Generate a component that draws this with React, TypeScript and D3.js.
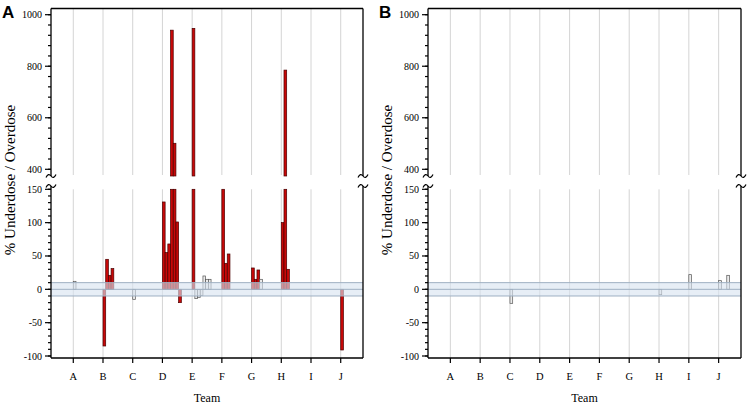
import React from "react";
import * as d3 from "d3";

const teams = ["A", "B", "C", "D", "E", "F", "G", "H", "I", "J"];

// Panel A: bar values per team (in order, left to right within each team)
const panelAValues: (number | null)[][] = [
  [12],
  [-85, 45, 21, 31],
  [-15],
  [131, 55, 68, 940, 501, 101, -20],
  [947, -14, -12, -9, 20, 15, 15],
  [150, 39, 53],
  [32, 15, 29, 15],
  [100, 785, 30],
  [],
  [-91],
];
// Panel A: whether each bar is highlighted (red) or not (grey)
const panelARed: boolean[][] = [
  [false],
  [true, true, true, true],
  [false],
  [true, true, true, true, true, true, true],
  [true, false, false, false, false, false, false],
  [true, true, true],
  [true, true, true, false],
  [true, true, true],
  [],
  [true],
];

// Panel B
const panelBValues: (number | null)[][] = [
  [],
  [],
  [-21],
  [],
  [],
  [],
  [],
  [-8],
  [22],
  [13, null, null, 21],
];
const panelBRed: boolean[][] = [
  [],
  [],
  [false],
  [],
  [],
  [],
  [],
  [false],
  [false],
  [false, false, false, false],
];

const upperTicks = [400, 600, 800, 1000];
const lowerTicks = [-100, -50, 0, 50, 100, 150];
const upperDomain = [400, 1000];
const lowerDomain = [-100, 150];
const bandLimits = [-10, 10];

const TOP = 8.5;
const UPPER_BOTTOM = 176;
const LOWER_AXIS_START = 186;
const LOWER_TOP = 189.3;
const BOTTOM = 358;

const upY = d3.scaleLinear().domain(upperDomain).range([169.3, 14.7]);
const lowY = d3.scaleLinear().domain(lowerDomain).range([356, 189.3]);

const FONT = "'Liberation Serif', 'Times New Roman', serif";

function squiggle(x: number, y: number) {
  return `M${x - 5},${y + 1.5} Q${x - 2.5},${y - 3.5} ${x},${y} Q${x + 2.5},${y + 3.5} ${x + 5},${y - 1.5}`;
}

function Panel({
  left,
  right,
  letter,
  values,
  red,
}: {
  left: number;
  right: number;
  letter: string;
  values: (number | null)[][];
  red: boolean[][];
}) {
  const x = d3.scalePoint<string>().domain(teams).range([left, right]).padding(0.75);
  const slot = x.step() / 11;
  const upperMinor = d3.range(upperDomain[0], upperDomain[1] + 1, 40);
  const lowerMinor = d3.range(lowerDomain[0], lowerDomain[1] + 1, 10);
  const bars: React.ReactNode[] = [];
  values.forEach((arr, ti) => {
    arr.forEach((v, i) => {
      if (v === null || v === undefined) return;
      const isRed = red[ti][i];
      const fill = isRed ? "#c80808" : "#ececec";
      const stroke = isRed ? "#4a0000" : "#555";
      const bx = (x(teams[ti]) as number) + i * slot;
      const key = `${ti}-${i}`;
      const lv = Math.min(v, lowerDomain[1]);
      const y0 = lowY(0);
      const y1 = lowY(lv);
      bars.push(
        <rect
          key={key + "l"}
          x={bx}
          y={Math.min(y0, y1)}
          width={slot}
          height={Math.abs(y1 - y0)}
          fill={fill}
          stroke={stroke}
          strokeWidth={0.7}
        />
      );
      if (v > upperDomain[0]) {
        const yt = upY(v);
        bars.push(
          <rect
            key={key + "u"}
            x={bx}
            y={yt}
            width={slot}
            height={UPPER_BOTTOM - yt}
            fill={fill}
            stroke={stroke}
            strokeWidth={0.7}
          />
        );
      }
    });
  });
  const cx = (left + right) / 2;
  return (
    <g>
      {/* gridlines */}
      {teams.map((t) => (
        <g key={"g" + t}>
          <line x1={x(t)} x2={x(t)} y1={TOP} y2={UPPER_BOTTOM - 1} stroke="#d4d4d4" strokeWidth={1} />
          <line x1={x(t)} x2={x(t)} y1={LOWER_TOP} y2={BOTTOM} stroke="#d4d4d4" strokeWidth={1} />
        </g>
      ))}
      {bars}
      {/* tolerance band */}
      <rect
        x={left}
        y={lowY(bandLimits[1])}
        width={right - left}
        height={lowY(bandLimits[0]) - lowY(bandLimits[1])}
        fill="#d8e4f0"
        fillOpacity={0.62}
      />
      {[bandLimits[1], 0, bandLimits[0]].map((v) => (
        <line
          key={"bl" + v}
          x1={left}
          x2={right}
          y1={lowY(v)}
          y2={lowY(v)}
          stroke="#9fb0c2"
          strokeWidth={1}
        />
      ))}
      {/* frame */}
      <line x1={left} x2={right} y1={TOP} y2={TOP} stroke="#000" strokeWidth={1.3} />
      <line x1={left} x2={left} y1={TOP} y2={UPPER_BOTTOM} stroke="#000" strokeWidth={1.3} />
      <line x1={right} x2={right} y1={TOP} y2={UPPER_BOTTOM} stroke="#000" strokeWidth={1.3} />
      <line x1={left} x2={left} y1={LOWER_AXIS_START} y2={BOTTOM} stroke="#000" strokeWidth={1.3} />
      <line x1={right} x2={right} y1={LOWER_AXIS_START} y2={BOTTOM} stroke="#000" strokeWidth={1.3} />
      <line x1={left} x2={right} y1={BOTTOM} y2={BOTTOM} stroke="#000" strokeWidth={1.3} />
      {[left, right].map((ax) => (
        <g key={"sq" + ax}>
          <path d={squiggle(ax, UPPER_BOTTOM)} fill="none" stroke="#000" strokeWidth={1.2} />
          <path d={squiggle(ax, LOWER_AXIS_START)} fill="none" stroke="#000" strokeWidth={1.2} />
        </g>
      ))}
      {/* y ticks */}
      {upperMinor.map((v) => (
        <line key={"um" + v} x1={left - 3} x2={left} y1={upY(v)} y2={upY(v)} stroke="#000" strokeWidth={1.2} />
      ))}
      {lowerMinor.map((v) => (
        <line key={"lm" + v} x1={left - 3} x2={left} y1={lowY(v)} y2={lowY(v)} stroke="#000" strokeWidth={1.2} />
      ))}
      {upperTicks.map((v) => (
        <g key={"ut" + v}>
          <line x1={left - 6} x2={left} y1={upY(v)} y2={upY(v)} stroke="#000" strokeWidth={1.2} />
          <text x={left - 9} y={upY(v)} dy="0.35em" textAnchor="end" fontSize={10} fontFamily={FONT}>
            {v}
          </text>
        </g>
      ))}
      {lowerTicks.map((v) => (
        <g key={"lt" + v}>
          <line x1={left - 6} x2={left} y1={lowY(v)} y2={lowY(v)} stroke="#000" strokeWidth={1.2} />
          <text x={left - 9} y={lowY(v)} dy="0.35em" textAnchor="end" fontSize={10} fontFamily={FONT}>
            {v}
          </text>
        </g>
      ))}
      {/* x ticks */}
      {teams.map((t) => (
        <g key={"xt" + t}>
          <line x1={x(t)} x2={x(t)} y1={BOTTOM} y2={BOTTOM + 5} stroke="#000" strokeWidth={1.2} />
          <text x={x(t)} y={380} textAnchor="middle" fontSize={10.5} fontFamily={FONT}>
            {t}
          </text>
        </g>
      ))}
      <text x={cx} y={402} textAnchor="middle" fontSize={12} fontFamily={FONT}>
        Team
      </text>
      <text
        transform={`translate(${left - 36},${180}) rotate(-90)`}
        textAnchor="middle"
        fontSize={15}
        fontFamily={FONT}
      >
        % Underdose / Overdose
      </text>
      <text
        x={left - 49}
        y={17.5}
        fontSize={17}
        fontWeight="bold"
        fontFamily="'Liberation Sans', Arial, sans-serif"
      >
        {letter}
      </text>
    </g>
  );
}

export default function App() {
  return (
    <svg
      width={750}
      height={407}
      style={{ position: "absolute", left: 0, top: 0, background: "#fff" }}
    >
      <rect x={0} y={0} width={750} height={407} fill="#fff" />
      <Panel left={51} right={363} letter="A" values={panelAValues} red={panelARed} />
      <Panel left={428} right={741} letter="B" values={panelBValues} red={panelBRed} />
    </svg>
  );
}
